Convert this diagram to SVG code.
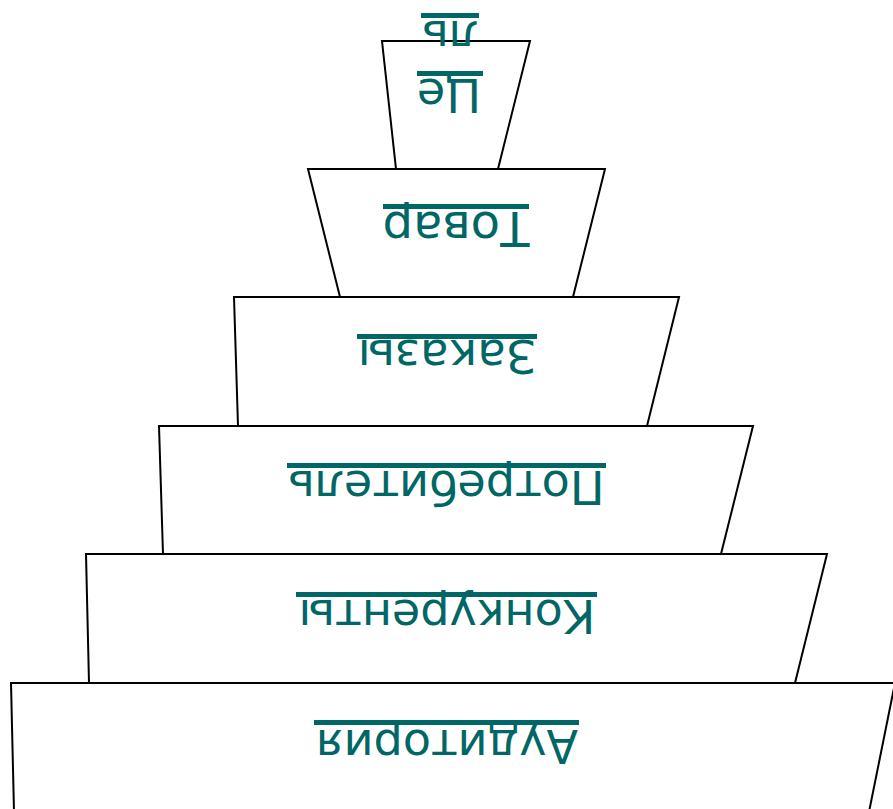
<svg xmlns="http://www.w3.org/2000/svg" width="893" height="809" viewBox="0 0 893 809">
<style>
.lvl{fill:#fff;stroke:#000;stroke-width:2}
.t{font-family:"DejaVu Sans",sans-serif;font-size:46px;fill:#006666;text-anchor:middle}
.u{fill:#006666}
</style>
<rect width="893" height="809" fill="#fff"/>
<g id="level6"><polygon class="lvl" points="11,683 895,683 869,812 14,812"/><text class="t" x="447" y="730" transform="rotate(180 447 730)">Аудитория</text><rect class="u" x="314" y="720" width="265" height="5"/></g>
<g id="level5"><polygon class="lvl" points="86,554 827,554 795,683 89,683"/><text class="t" x="447" y="600" transform="rotate(180 447 600)">Конкуренты</text><rect class="u" x="296" y="592" width="301" height="5"/></g>
<g id="level4"><polygon class="lvl" points="159,426 753,426 721,554 163,554"/><text class="t" x="446" y="471" transform="rotate(180 446 471)">Потребитель</text><rect class="u" x="287" y="463" width="319" height="5"/></g>
<g id="level3"><polygon class="lvl" points="234,297 679,297 647,426 238,426"/><text class="t" x="447" y="340" transform="rotate(180 447 340)" style="font-size:47px">Заказы</text><rect class="u" x="357" y="334" width="180" height="5"/></g>
<g id="level2"><polygon class="lvl" points="308,169 605,169 573,297 340,297"/><text class="t" x="456" y="212" transform="rotate(180 456 212)" style="font-size:48px">Товар</text><rect class="u" x="383" y="204" width="146" height="5"/></g>
<g id="level1"><polygon class="lvl" points="382,41 530,41 498,169 396,169"/><text class="t" x="449" y="79" transform="rotate(180 449 79)">Це</text><rect class="u" x="417" y="71" width="66" height="5"/><text class="t" x="450" y="21" transform="rotate(180 450 21)">ль</text><rect class="u" x="421" y="13" width="58" height="5"/></g>
</svg>
